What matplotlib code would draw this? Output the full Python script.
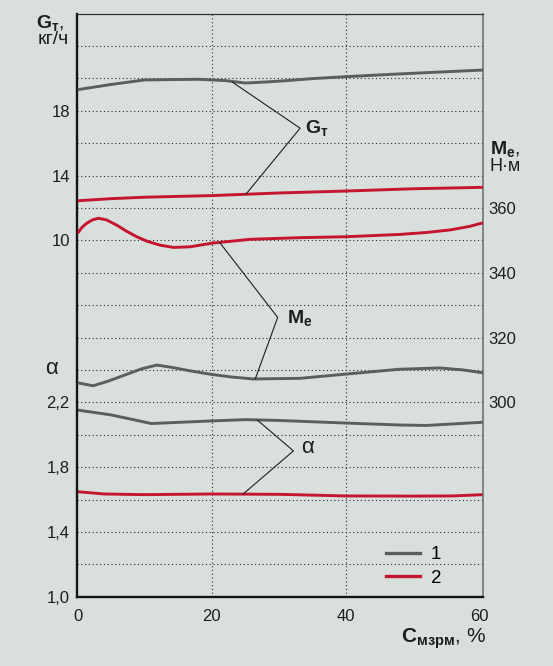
import numpy as np
import matplotlib.pyplot as plt
from matplotlib.lines import Line2D

# ================ Global variables ================
W, H = 553, 666
BG = "#d9dfdd"
GRAY = "#5b5e60"
RED = "#c5152f"
INK = "#1e1e1e"
FONT = ["Liberation Sans", "DejaVu Sans"]
plt.rcParams["font.family"] = FONT
plt.rcParams["mathtext.fontset"] = "custom"
plt.rcParams["mathtext.rm"] = "Liberation Sans"
plt.rcParams["mathtext.bf"] = "Liberation Sans:bold"
plt.rcParams["mathtext.it"] = "Liberation Sans:italic"

# ================ Data ================
# G_T, kg/h
gt1_x = [0, 5, 10, 18, 22, 25, 28, 31, 35, 40, 48, 60.5]
gt1_y = [19.30, 19.62, 19.90, 19.94, 19.86, 19.71, 19.77, 19.85, 19.98, 20.10, 20.27, 20.51]
gt2_x = [0, 5, 10, 20, 30, 40, 50, 60.5]
gt2_y = [12.44, 12.57, 12.66, 12.76, 12.92, 13.04, 13.18, 13.27]

# M_e, N*m
me1_x = [0, 2.3, 4.5, 7, 9.5, 11.8, 14, 16.8, 20, 23, 26.2, 33.2, 40, 48, 54, 57.5, 60.5]
me1_y = [306.0, 305.1, 306.5, 308.4, 310.3, 311.5, 310.8, 309.7, 308.6, 307.8, 307.2, 307.4,
         308.7, 310.2, 310.6, 310.0, 309.1]
me2_x = [0, 0.6, 1.3, 2.2, 3.1, 4.3, 5.8, 7.3, 8.8, 10.5, 12.3, 14.3, 16.8, 20, 25.7, 33, 40,
         48, 52, 55.6, 58.5, 60.5]
me2_y = [352.2, 353.9, 355.2, 356.3, 356.8, 356.3, 354.7, 352.8, 351.1, 349.6, 348.5, 347.8,
         348.0, 349.1, 350.3, 350.8, 351.1, 351.8, 352.4, 353.2, 354.3, 355.4]

# alpha
a1_x = [0, 5, 11, 20, 25, 30, 40, 48, 52, 60.5]
a1_y = [2.152, 2.122, 2.069, 2.085, 2.093, 2.088, 2.072, 2.060, 2.057, 2.077]
a2_x = [0, 4, 10, 20, 30, 40, 50, 56, 60.5]
a2_y = [1.648, 1.634, 1.630, 1.634, 1.632, 1.622, 1.621, 1.622, 1.630]

# leader lines (curve 1 point, vertex, curve 2 point)
lead_g_x, lead_g_y = [23.1, 33.2, 25.1], [19.76, 16.92, 12.84]
lead_m_x, lead_m_y = [21.2, 29.85, 26.5], [349.3, 326.2, 307.2]
lead_a_x, lead_a_y = [26.8, 32.2, 24.7], [2.091, 1.90, 1.634]

x_ticks = [0, 20, 40, 60]
a_ticks = [1.0, 1.4, 1.8, 2.2]
a_labels = ["1,0", "1,4", "1,8", "2,2"]
g_ticks = [10, 14, 18]
m_ticks = [300, 320, 340, 360]
legend_labels = ["1", "2"]


def fx(px):
    return px / W


def fy(py):
    return 1 - py / H


# ================ Figure ================
fig = plt.figure(figsize=(W / 100, H / 100), dpi=100, facecolor=BG)
axA = fig.add_axes([fx(76.7), fy(596.7), (483 - 76.7) / W, (596.7 - 13.5) / H])
axA.set_facecolor(BG)
axG = axA.twinx()
axM = axA.twinx()

axA.set_xlim(-0.15, 60.5)
axA.set_ylim(1.0, 4.6)
axG.set_ylim(-12, 24)
axM.set_ylim(240, 420)

# -------- grid --------
grid_kw = dict(color="#2a2a2a", lw=0.8, linestyle=(0, (1, 2.4)), zorder=0.5)
for v in np.arange(1.2, 4.45, 0.2):
    axA.axhline(v, **grid_kw)
for v in [20, 40]:
    axA.axvline(v, **grid_kw)

# -------- curves --------
lw = 2.1
axG.plot(gt1_x, gt1_y, color=GRAY, lw=lw, solid_capstyle="butt")
axG.plot(gt2_x, gt2_y, color=RED, lw=lw, solid_capstyle="butt")
axM.plot(me1_x, me1_y, color=GRAY, lw=lw, solid_capstyle="butt")
axM.plot(me2_x, me2_y, color=RED, lw=lw, solid_capstyle="butt")
axA.plot(a1_x, a1_y, color=GRAY, lw=lw, solid_capstyle="butt")
axA.plot(a2_x, a2_y, color=RED, lw=lw, solid_capstyle="butt")

# -------- leader lines and labels --------
lead_kw = dict(color=INK, lw=0.8)
axG.plot(lead_g_x, lead_g_y, **lead_kw)
axM.plot(lead_m_x, lead_m_y, **lead_kw)
axA.plot(lead_a_x, lead_a_y, **lead_kw)

axG.text(34.0, 16.95, r"$\mathbf{G}_{\mathbf{т}}$", fontsize=14, color=INK, ha="left", va="center")
axM.text(31.2, 326.0, r"$\mathbf{M}_{\mathbf{e}}$", fontsize=14, color=INK, ha="left", va="center")
axA.text(33.4, 1.924, "α", fontsize=16, color=INK, ha="left", va="center")

# -------- spines --------
for ax in (axG, axM):
    for s in ax.spines.values():
        s.set_visible(False)
axA.spines["left"].set(lw=1.7, color="#151515")
axA.spines["bottom"].set(lw=1.7, color="#151515")
axA.spines["top"].set(lw=0.9, color="#333333")
axA.spines["right"].set(lw=1.1, color="#6a6a6a")

# -------- ticks --------
tick_fs = 12
axA.set_xticks(x_ticks)
axA.set_xticklabels([str(v) for v in x_ticks])
axA.set_yticks(a_ticks)
axA.set_yticklabels(a_labels)
axA.tick_params(axis="x", length=0, pad=9, labelsize=tick_fs, labelcolor=INK)
axA.tick_params(axis="y", length=0, pad=5, labelsize=tick_fs, labelcolor=INK)

axG.yaxis.tick_left()
axG.set_yticks(g_ticks)
axG.set_yticklabels([str(v) for v in g_ticks])
axG.tick_params(axis="y", length=0, pad=5, labelsize=tick_fs, labelcolor=INK)

axM.set_yticks(m_ticks)
axM.set_yticklabels([str(v) for v in m_ticks])
axM.tick_params(axis="y", length=0, pad=4, labelsize=tick_fs, labelcolor=INK)

# -------- axis titles --------
fig.text(fx(51.3), fy(368.7), "α", fontsize=16, color=INK, ha="center", va="center")

fig.text(fx(35.5), fy(23), r"$\mathbf{G}_{\mathbf{т}}$,", fontsize=14, color=INK,
         ha="left", va="center")
fig.text(fx(68.5), fy(40), "кг/ч", fontsize=14, color=INK, ha="right", va="center")

fig.text(fx(489.5), fy(149), r"$\mathbf{M}_{\mathbf{e}}$,", fontsize=14, color=INK,
         ha="left", va="center")
fig.text(fx(489.5), fy(167), "Н·м", fontsize=13, color=INK, ha="left", va="center")

fig.text(fx(486), fy(639), r"$\mathbf{C}_{\mathbf{мзрм}}$, %", fontsize=15, color=INK,
         ha="right", va="center")

# -------- legend --------
handles = [Line2D([], [], color=GRAY, lw=2.4), Line2D([], [], color=RED, lw=2.4)]
axM.legend(handles, legend_labels, loc="lower left", bbox_to_anchor=(0.72, -0.012),
           frameon=False, fontsize=13.5, handlelength=1.8, handletextpad=0.6,
           labelspacing=0.35, borderpad=0.4)

fig.savefig("out.png", dpi=100, facecolor=BG)
